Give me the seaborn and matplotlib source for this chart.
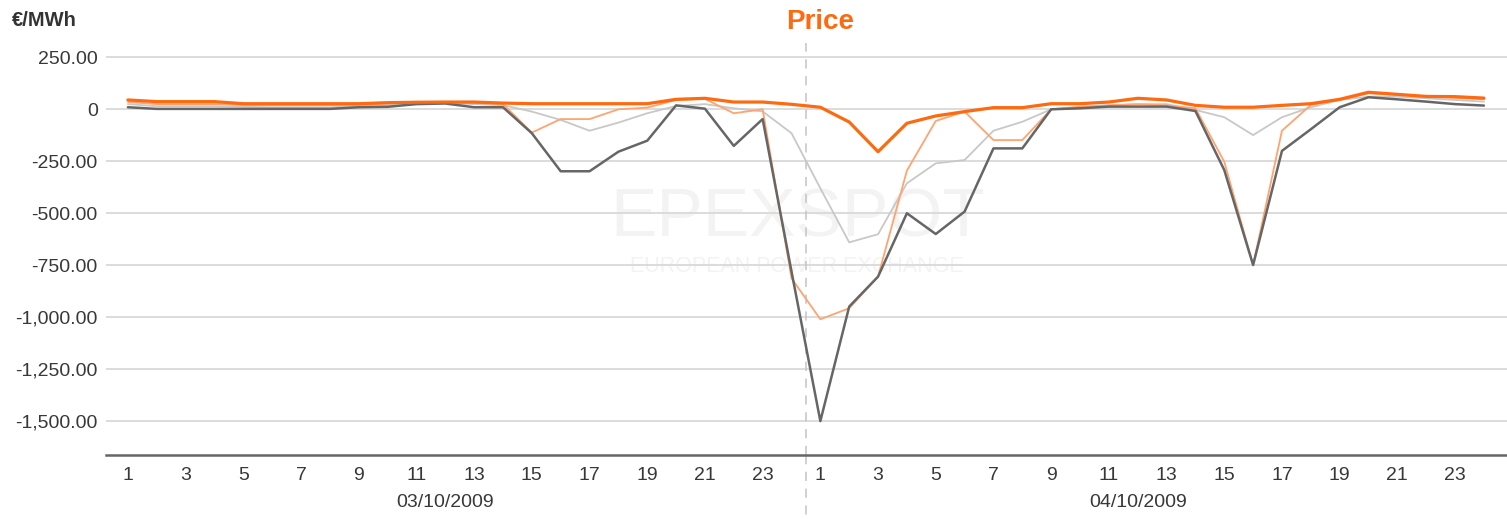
import numpy as np
import pandas as pd
import matplotlib
matplotlib.use("Agg")
import matplotlib.pyplot as plt
import seaborn as sns
from matplotlib.ticker import FuncFormatter

# ---------------- data ----------------
hours = list(range(1, 25))
dates = ["03/10/2009", "04/10/2009"]

dark_gray = [10, 2, 2, 2, 2, 2, 2, 2, 10, 12, 25, 28, 10, 10, -115, -298, -298, -204, -151, 19, 3, -176, -47, -780,
             -1500, -949, -805, -500, -600, -492, -188, -188, 0, 5, 13, 13, 13, -8, -292, -749, -200, -96, 10, 58, 48, 37, 25, 18]
light_gray = [25, 15, 15, 15, 12, 10, 10, 10, 15, 20, 28, 30, 25, 20, -11, -51, -103, -64, -19, 16, 25, 5, -10, -115,
              -380, -640, -601, -356, -260, -244, -103, -60, 0, 5, 20, 25, 25, -3, -38, -124, -38, 10, 45, 61, 61, 53, 45, 37]
light_orange = [35, 25, 25, 25, 20, 20, 20, 20, 20, 28, 32, 32, 30, 25, -112, -47, -47, 0, 8, 45, 50, -19, 0, -813,
                 -1010, -957, -805, -295, -56, -11, -148, -148, 0, 13, 19, 24, 19, 5, -252, -749, -103, 21, 45, 77, 69, 62, 55, 48]
orange = [45, 37, 37, 37, 27, 27, 27, 27, 27, 32, 34, 35, 35, 30, 27, 27, 27, 27, 27, 48, 53, 35, 35, 24,
          10, -61, -204, -67, -32, -11, 8, 8, 27, 27, 35, 53, 45, 19, 10, 10, 19, 27, 48, 82, 72, 62, 61, 54]

y_ticks = [250, 0, -250, -500, -750, -1000, -1250, -1500]

# ---------------- style ----------------
sns.set_theme(style="white")
plt.rcParams['font.family'] = ['Liberation Sans', 'DejaVu Sans']

fig = plt.figure(figsize=(15.07, 5.19), dpi=100)
ax = fig.add_axes([106 / 1507, 1 - 455 / 519, 1 - 106 / 1507, (455 - 43) / 519])

idx = np.arange(len(orange))
df = pd.DataFrame({"i": idx, "dark": dark_gray, "lgray": light_gray,
                   "lorange": light_orange, "orange": orange})

series = [("lgray", "#c8c8c8", 1.3, 2),
          ("lorange", "#ffa470", 1.3, 3),
          ("dark", "#666666", 1.8, 4),
          ("orange", "#ff6a10", 2.3, 5)]
for col, color, lw, z in series:
    sns.lineplot(data=df, x="i", y=col, ax=ax, color=color, linewidth=lw, zorder=z)

ax.set_xlim(-0.76, 47.8)
ax.set_ylim(-1663, 319)

# grid
for v in y_ticks:
    ax.axhline(v, color="#d9d9d9", lw=1.3, zorder=1)
ax.grid(False)

# day separator
ax.axvline(23.5, ymin=0, ymax=1, color="#c4c4c4", lw=1.1, ls=(0, (6, 5)), zorder=1, clip_on=False)
ax.plot([23.5, 23.5], [-1663, -2000], color="#c4c4c4", lw=1.1, ls=(0, (6, 5)), clip_on=False, zorder=1)

for s in ["top", "right", "left"]:
    ax.spines[s].set_visible(False)
ax.spines["bottom"].set_color("#666666")
ax.spines["bottom"].set_linewidth(1.8)

ax.set_yticks(y_ticks)
ax.yaxis.set_major_formatter(FuncFormatter(lambda v, p: "0" if v == 0 else f"{v:,.2f}"))
xt = [i for i in idx if i % 2 == 0]
ax.set_xticks(xt)
ax.set_xticklabels([str(hours[i % 24]) for i in xt])
ax.tick_params(axis="both", length=0, labelsize=14, colors="#383838")
ax.tick_params(axis="x", pad=9)
ax.tick_params(axis="y", pad=6)
ax.set_xlabel("")
ax.set_ylabel("")

# date labels
for d, label in enumerate(dates):
    ax.text(d * 24 + 11, -0.115, label, transform=ax.get_xaxis_transform(),
            ha="center", va="center", fontsize=14, color="#383838")

# watermark
ax.text(23.2, -525, "EPEXSPOT", ha="center", va="center", fontsize=50, color="#f3f3f3",
        fontweight="light", zorder=0)
ax.text(23.2, -755, "EUROPEAN POWER EXCHANGE", ha="center", va="center", fontsize=15.5,
        color="#f3f3f3", zorder=0)

# titles
fig.text(820 / 1507, 1 - 22 / 519, "Price", ha="center", va="center", fontsize=20,
         fontweight="bold", color="#ff6a10")
fig.text(12 / 1507, 1 - 21 / 519, "€/MWh", ha="left", va="center", fontsize=14.5,
         fontweight="bold", color="#333333")

fig.savefig("out.png", dpi=100)
